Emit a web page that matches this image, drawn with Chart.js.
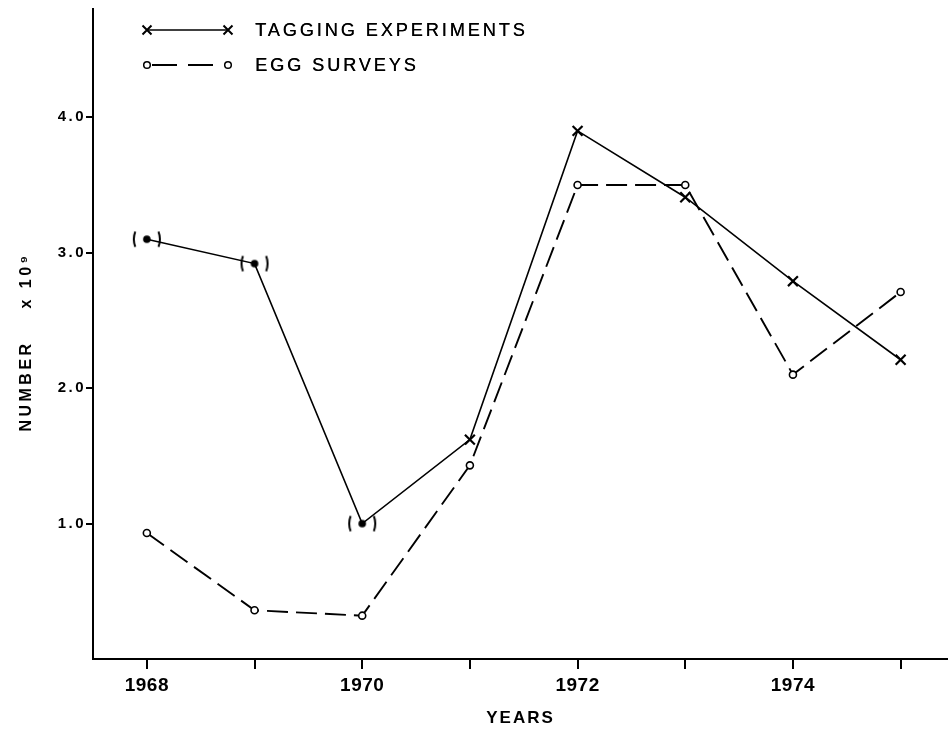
<!DOCTYPE html>
<html><head><meta charset="utf-8">
<script src="https://cdn.jsdelivr.net/npm/chart.js@4"></script>
<style>html,body{margin:0;padding:0;background:#fff;}canvas{display:block;}</style>
</head><body>
<canvas id="c" width="948" height="731"></canvas>
<script>
// ---- data ----
const years = [1968, 1969, 1970, 1971, 1972, 1973, 1974, 1975];
const taggingExperiments = [3.1, 2.92, 1.0, 1.62, 3.9, 3.41, 2.79, 2.21];
const eggSurveys = [0.93, 0.36, 0.32, 1.43, 3.5, 3.5, 2.1, 2.71];
const taggingBracketed = [true, true, true, false, false, false, false, false];
const yTickValues = [1.0, 2.0, 3.0, 4.0];
const xTickYears = [1968, 1969, 1970, 1971, 1972, 1973, 1974, 1975];
const xLabelledYears = [1968, 1970, 1972, 1974];
const seriesNames = ['TAGGING EXPERIMENTS', 'EGG SURVEYS'];
const xAxisTitle = 'YEARS';
const yAxisTitle = 'NUMBER    x 10\u2079  ';

const FONT = '"Liberation Sans", Arial, sans-serif';

// "( • )" marker drawn into a small canvas, used as a point style
function bracketDot() {
  const c = document.createElement('canvas');
  c.width = 36; c.height = 24;
  const g = c.getContext('2d');
  g.fillStyle = '#000'; g.strokeStyle = '#000'; g.lineWidth = 2;
  g.beginPath(); g.arc(18, 12, 3.8, 0, Math.PI * 2); g.fill();
  g.beginPath(); g.arc(26, 12, 21, Math.PI - 0.37, Math.PI + 0.37); g.stroke();
  g.beginPath(); g.arc(10, 12, 21, -0.37, 0.37); g.stroke();
  return c;
}
const bracketImg = bracketDot();

const paperLegend = {
  id: 'paperLegend',
  afterDraw(chart) {
    const ctx = chart.ctx;
    const rows = [30, 65];
    const x0 = 147, x1 = 228, tx = 255;
    chart.data.datasets.forEach((d, i) => {
      const y = rows[i];
      ctx.save();
      ctx.strokeStyle = '#000';
      ctx.fillStyle = '#000';
      ctx.lineWidth = d.borderWidth;
      if (i === 1) {
        ctx.setLineDash([25, 11]);
        ctx.beginPath(); ctx.moveTo(152, y); ctx.lineTo(221, y); ctx.stroke();
        ctx.setLineDash([]);
        ctx.lineWidth = 1.5;
        [x0, x1].forEach(x => {
          ctx.beginPath(); ctx.arc(x, y, 3.3, 0, Math.PI * 2);
          ctx.fillStyle = '#fff'; ctx.fill(); ctx.stroke();
        });
      } else {
        ctx.beginPath(); ctx.moveTo(x0, y); ctx.lineTo(x1, y); ctx.stroke();
        ctx.lineWidth = 2;
        [x0, x1].forEach(x => {
          ctx.beginPath();
          ctx.moveTo(x - 4.5, y - 4.5); ctx.lineTo(x + 4.5, y + 4.5);
          ctx.moveTo(x - 4.5, y + 4.5); ctx.lineTo(x + 4.5, y - 4.5);
          ctx.stroke();
        });
      }
      ctx.fillStyle = '#000';
      ctx.font = '18px ' + FONT;
      ctx.letterSpacing = '3px';
      ctx.textBaseline = 'middle';
      ctx.textAlign = 'left';
      ctx.fillText(d.label, tx, y + 1);
      ctx.fillText(d.label, tx + 0.4, y + 1);
      ctx.restore();
    });
  }
};

const spacingPlugin = {
  id: 'spacing',
  beforeDraw(chart) {
    const ctx = chart.ctx;
    ctx.save();
    ctx.fillStyle = '#fff';
    ctx.fillRect(0, 0, chart.width, chart.height);
    ctx.restore();
    ctx.letterSpacing = '3px';
    const sp = { x: '0.5px', y: '2.5px' };
    ['x', 'y'].forEach(id => {
      const s = chart.scales[id];
      if (!s._patched) {
        const orig = s.drawLabels.bind(s);
        s.drawLabels = (a) => {
          const p = s.ctx.letterSpacing;
          s.ctx.letterSpacing = sp[id];
          orig(a);
          s.ctx.letterSpacing = p;
        };
        const origT = s.drawTitle.bind(s);
        s.drawTitle = () => {
          const p = s.ctx.letterSpacing;
          s.ctx.letterSpacing = id === 'x' ? '2px' : '3.5px';
          origT();
          s.ctx.letterSpacing = p;
        };
        s._patched = true;
      }
    });
  }
};

new Chart(document.getElementById('c'), {
  type: 'line',
  data: {
    datasets: [
      {
        label: seriesNames[0],
        data: years.map((x, i) => ({ x, y: taggingExperiments[i] })),
        borderColor: '#000',
        borderWidth: 1.6,
        pointStyle: taggingBracketed.map(b => b ? bracketImg : 'crossRot'),
        pointRadius: taggingBracketed.map(b => b ? 4 : 7),
        pointBorderWidth: 2.2,
        pointBorderColor: '#000',
        pointBackgroundColor: '#000',
        tension: 0,
        clip: false
      },
      {
        label: seriesNames[1],
        data: years.map((x, i) => ({ x, y: eggSurveys[i] })),
        borderColor: '#000',
        borderWidth: 1.9,
        borderDash: [21, 8],
        pointStyle: 'circle',
        pointRadius: 3.5,
        pointBorderWidth: 1.6,
        pointBorderColor: '#000',
        pointBackgroundColor: '#fff',
        tension: 0,
        clip: false
      }
    ]
  },
  options: {
    responsive: false,
    animation: false,
    devicePixelRatio: 1,
    layout: { autoPadding: false, padding: { top: 8, left: 0, right: 0, bottom: 0 } },
    plugins: { legend: { display: false }, tooltip: { enabled: false } },
    scales: {
      x: {
        type: 'linear',
        min: 1967.5,
        max: 1975.44,
        afterFit(s) { s.height = 72; },
        afterBuildTicks(s) { s.ticks = xTickYears.map(v => ({ value: v })); },
        ticks: {
          autoSkip: false, maxRotation: 0, minRotation: 0, padding: 5, color: '#000',
          font: { family: FONT, size: 19, weight: 'bold' },
          callback: v => xLabelledYears.includes(v) ? String(v) : ''
        },
        grid: { drawOnChartArea: false, drawTicks: true, tickLength: 10, lineWidth: 2, color: '#000' },
        border: { display: true, color: '#000', width: 2 },
        title: { display: true, text: xAxisTitle, color: '#000', font: { family: FONT, size: 17, weight: 'bold' }, padding: { top: 0, bottom: 2 } }
      },
      y: {
        min: 0,
        max: 4.8,
        afterFit(s) { s.width = 93; },
        afterBuildTicks(s) { s.ticks = yTickValues.map(v => ({ value: v })); },
        ticks: {
          padding: 0, color: '#000',
          font: { family: FONT, size: 15, weight: 'bold' },
          callback: v => Number(v).toFixed(1)
        },
        grid: { drawOnChartArea: false, drawTicks: true, tickLength: 7, lineWidth: 2, color: '#000' },
        border: { display: true, color: '#000', width: 2 },
        title: { display: true, text: yAxisTitle, color: '#000', font: { family: FONT, size: 16, weight: 'bold' }, padding: { top: 17, bottom: 0 } }
      }
    }
  },
  plugins: [spacingPlugin, paperLegend]
});
</script>
</body></html>
